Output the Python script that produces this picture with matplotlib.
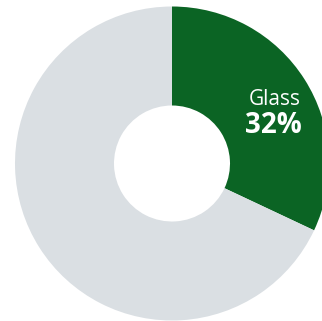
import matplotlib.pyplot as plt

labels = ['Glass', 'Other']
shares = [32, 68]
colors = ['#0b6424', '#dadfe3']

fig = plt.figure(figsize=(3.22, 3.21), dpi=100)
ax = fig.add_axes([0, 0, 1, 1])

# donut, clipped on the right like the original
ax.pie(shares, colors=colors, startangle=90, counterclock=False,
       radius=157, center=(172, 157.5),
       wedgeprops=dict(width=99, linewidth=0))

ax.set_xlim(0, 322)
ax.set_ylim(0, 321)
ax.set_aspect('equal')
ax.axis('off')

ax.text(301, 216, labels[0], color='white', fontsize=15, family='Open Sans',
        ha='right', va='baseline')
ax.text(302, 188, f'{shares[0]}%', color='white', fontsize=20, family='Open Sans',
        fontweight='bold', ha='right', va='baseline')

fig.savefig('out.png', dpi=100)
